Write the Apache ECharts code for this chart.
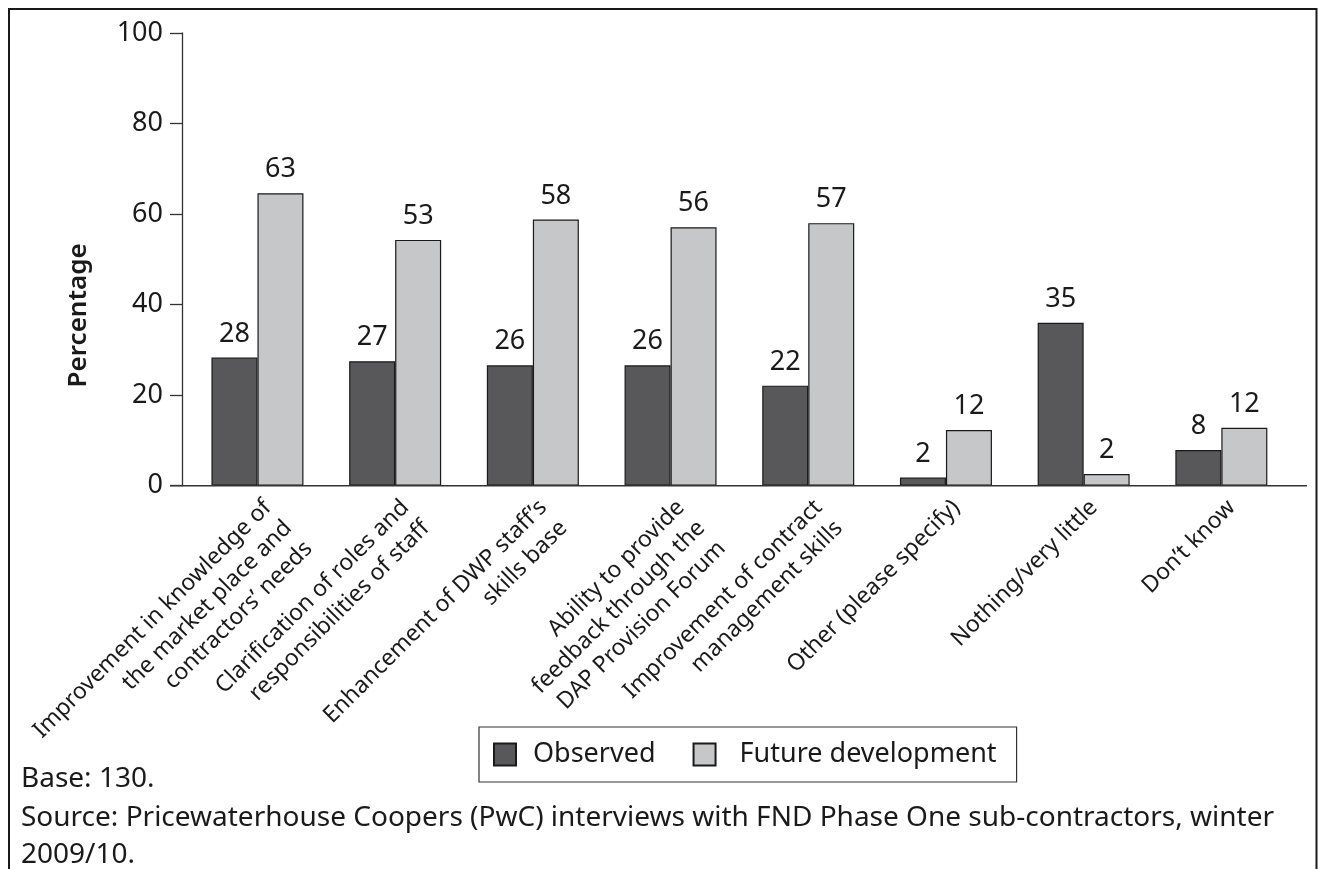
<!DOCTYPE html>
<html>
<head>
<meta charset="utf-8">
<script src="https://cdn.jsdelivr.net/npm/echarts@6/dist/echarts.min.js"></script>
<style>
html,body{margin:0;padding:0;background:#fff;}
#chart{width:1318px;height:869px;}
</style>
</head>
<body>
<div id="chart"></div>
<script>
const categories = [
  'Improvement in knowledge of\nthe market place and\ncontractors\u2019 needs',
  'Clarification of roles and\nresponsibilities of staff',
  'Enhancement of DWP staff\u2019s\nskills base',
  'Ability to provide\nfeedback through the\nDAP Provision Forum',
  'Improvement of contract\nmanagement skills',
  'Other (please specify)',
  'Nothing/very little',
  'Don\u2019t know'
];
const seriesNames = ['Observed', 'Future development'];
const observed = [28.3, 27.5, 26.6, 26.6, 22.1, 1.8, 36.0, 7.9];
const future = [64.6, 54.3, 58.8, 57.1, 58.0, 12.3, 2.6, 12.8];
const observedLabels = ['28', '27', '26', '26', '22', '2', '35', '8'];
const futureLabels = ['63', '53', '58', '56', '57', '12', '2', '12'];
const yMin = 0, yMax = 100, yStep = 20;
const yAxisTitle = 'Percentage';
const notes = ['Base: 130.', 'Source: Pricewaterhouse Coopers (PwC) interviews with FND Phase One sub-contractors, winter', '2009/10.'];

const FONT = 'Noto Sans';
const INK = '#1a1a1a';
const AXIS = '#333333';

const chart = echarts.init(document.getElementById('chart'), null, {renderer: 'canvas'});

function barSeries(name, data, labels, color) {
  return {
    name: name,
    type: 'bar',
    data: data,
    barWidth: 46,
    barGap: '0%',
    itemStyle: {color: color, borderColor: '#1a1a1a', borderWidth: 1.2},
    label: {
      show: true,
      position: 'top',
      distance: 10,
      color: INK,
      fontFamily: FONT,
      fontSize: 27,
      formatter: p => labels[p.dataIndex]
    },
    emphasis: {disabled: true}
  };
}

const option = {
  animation: false,
  backgroundColor: '#ffffff',
  textStyle: {fontFamily: FONT},
  grid: {left: 188.6, right: 27.8, top: 33, bottom: 383.3, containLabel: false},
  xAxis: {
    type: 'category',
    data: categories,
    axisLine: {show: false},
    axisTick: {show: false},
    axisLabel: {
      interval: 0,
      rotate: 45,
      margin: 8,
      verticalAlign: 'top',
      color: INK,
      fontFamily: FONT,
      fontSize: 23,
      lineHeight: 29
    }
  },
  yAxis: {
    type: 'value',
    min: yMin, max: yMax, interval: yStep,
    offset: 6.6,
    axisLine: {show: true, lineStyle: {color: AXIS, width: 1.3}},
    axisTick: {show: true, length: 12, inside: false, lineStyle: {color: AXIS, width: 1.3}},
    splitLine: {show: false},
    axisLabel: {margin: 19, color: INK, fontFamily: FONT, fontSize: 27}
  },
  legend: {
    data: [
      {name: seriesNames[0], icon: 'rect', textStyle: {padding: [0, 0, 0, 12]}},
      {name: seriesNames[1], icon: 'rect', textStyle: {padding: [0, 0, 0, 19]}}
    ],
    left: 479, top: 727,
    orient: 'horizontal',
    itemWidth: 22, itemHeight: 22, itemGap: 37,
    padding: [14, 20, 14, 14],
    borderColor: '#333333', borderWidth: 1.2,
    textStyle: {color: INK, fontFamily: FONT, fontSize: 27},
    selectedMode: false
  },
  series: [
    barSeries(seriesNames[0], observed, observedLabels, '#58585a'),
    barSeries(seriesNames[1], future, futureLabels, '#c6c7c9')
  ]
};
chart.setOption(option);

// decorations tied to the axes
const y0 = chart.convertToPixel({yAxisIndex: 0}, yMin);
const yTop = chart.convertToPixel({yAxisIndex: 0}, yMax);
const noteStyle = {fill: INK, fontFamily: FONT, fontSize: 28, textVerticalAlign: 'middle', textAlign: 'left'};
chart.setOption({
  graphic: [
    {type: 'rect', silent: true, z: 100, shape: {x: 9, y: 9, width: 1307.5, height: 1000},
      style: {fill: 'none', stroke: '#1a1a1a', lineWidth: 2}},
    {type: 'line', silent: true, z: 100, shape: {x1: 170, y1: y0, x2: 1307, y2: y0},
      style: {stroke: AXIS, lineWidth: 1.5}},
    {type: 'text', silent: true, z: 100, x: 79, y: (y0 + yTop) / 2 + 56, rotation: Math.PI / 2,
      style: {text: yAxisTitle, fill: INK, fontFamily: FONT, fontSize: 26, fontWeight: 600,
        textAlign: 'center', textVerticalAlign: 'middle'}},
    {type: 'text', silent: true, x: 21, y: 779, style: Object.assign({text: notes[0]}, noteStyle)},
    {type: 'text', silent: true, x: 21, y: 818, style: Object.assign({text: notes[1]}, noteStyle)},
    {type: 'text', silent: true, x: 21, y: 855, style: Object.assign({text: notes[2]}, noteStyle)}
  ]
});
</script>
</body>
</html>
